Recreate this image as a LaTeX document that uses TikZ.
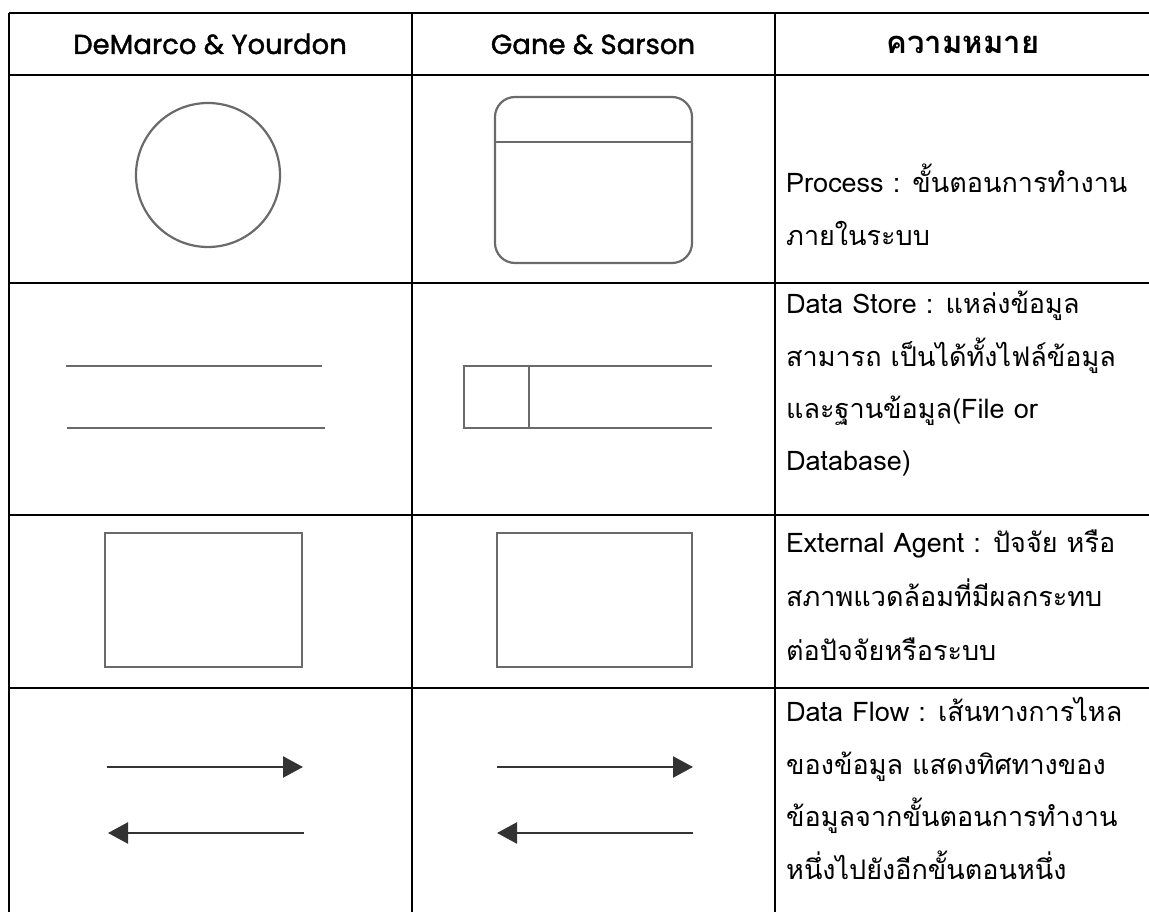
\documentclass[tikz,border=0pt]{standalone}
\usepackage{fontspec}
\usetikzlibrary{arrows.meta}
\setmainfont{Loma}[Script=Thai]
\newfontfamily\thai{Loma}[Script=Thai]
\newfontfamily\hdrlat{Poppins}[FakeBold=1.5]
\definecolor{shp}{HTML}{6A6A6A}
\definecolor{arr}{HTML}{333333}
\tikzset{
  grid/.style={black, line width=2.4pt},
  shape line/.style={shp, line width=2.2pt},
  flow/.style={arr, line width=2.4pt, -{Triangle[length=20pt,width=21pt]}},
  hdr/.style={anchor=base, inner sep=0pt, font=\hdrlat\fontsize{27.5}{30}\selectfont},
  hdrth/.style={anchor=base, inner sep=0pt, font=\thai\bfseries\fontsize{31}{34}\selectfont},
  txt/.style={anchor=base west, inner sep=0pt, font=\thai\fontsize{27}{30}\selectfont},
}
\begin{document}
\begin{tikzpicture}[x=1pt,y=-1pt]
\useasboundingbox (0,0) rectangle (1149,912);
% table grid
\foreach \yy in {13,75,283,515,688} \draw[grid] (9,\yy) -- (1149,\yy);
\foreach \xx in {9,412,775} \draw[grid] (\xx,13) -- (\xx,912);
% headers
\node[hdr] (h1) at (210,54) {DeMarco \& Yourdon};
\node[hdr] (h2) at (593,54) {Gane \& Sarson};
\node[hdrth] (h3) at (963,54) {ความหมาย};
% row 1: process
\draw[shape line] (208,175) circle[radius=72];
\draw[shape line, rounded corners=20pt] (495,97) rectangle (692,263);
\draw[shape line] (495,142) -- (692,142);
\node[txt] (t11) at (786,193) {Process : ขั้นตอนการทำงาน};
\node[txt] (t12) at (786,246) {ภายในระบบ};
% row 2: data store
\draw[shape line] (66,366) -- (322,366);
\draw[shape line] (67,428) -- (325,428);
\draw[shape line] (712,366) -- (464,366) -- (464,428) -- (712,428);
\draw[shape line] (529,366) -- (529,428);
\node[txt] (t21) at (786,313) {Data Store : แหล่งข้อมูล};
\node[txt] (t22) at (786,366) {สามารถ เป็นได้ทั้งไฟล์ข้อมูล};
\node[txt] (t23) at (786,418) {และฐานข้อมูล(File or};
\node[txt] (t24) at (786,470) {Database)};
% row 3: external agent
\draw[shape line] (105,533) rectangle (302,667);
\draw[shape line] (497,533) rectangle (692,667);
\node[txt] (t31) at (786,552) {External Agent : ปัจจัย หรือ};
\node[txt] (t32) at (786,606) {สภาพแวดล้อมที่มีผลกระทบ};
\node[txt] (t33) at (786,660) {ต่อปัจจัยหรือระบบ};
% row 4: data flow
\coordinate (a1s) at (107,767); \coordinate (a1e) at (303,767);
\coordinate (a2s) at (304,833); \coordinate (a2e) at (108,833);
\coordinate (b1s) at (497,767); \coordinate (b1e) at (693,767);
\coordinate (b2s) at (693,833); \coordinate (b2e) at (497,833);
\draw[flow] (a1s) -- (a1e);
\draw[flow] (a2s) -- (a2e);
\draw[flow] (b1s) -- (b1e);
\draw[flow] (b2s) -- (b2e);
\node[txt] (t41) at (786,721) {Data Flow : เส้นทางการไหล};
\node[txt] (t42) at (786,774) {ของข้อมูล แสดงทิศทางของ};
\node[txt] (t43) at (786,826) {ข้อมูลจากขั้นตอนการทำงาน};
\node[txt] (t44) at (786,879) {หนึ่งไปยังอีกขั้นตอนหนึ่ง};
\end{tikzpicture}
\end{document}
